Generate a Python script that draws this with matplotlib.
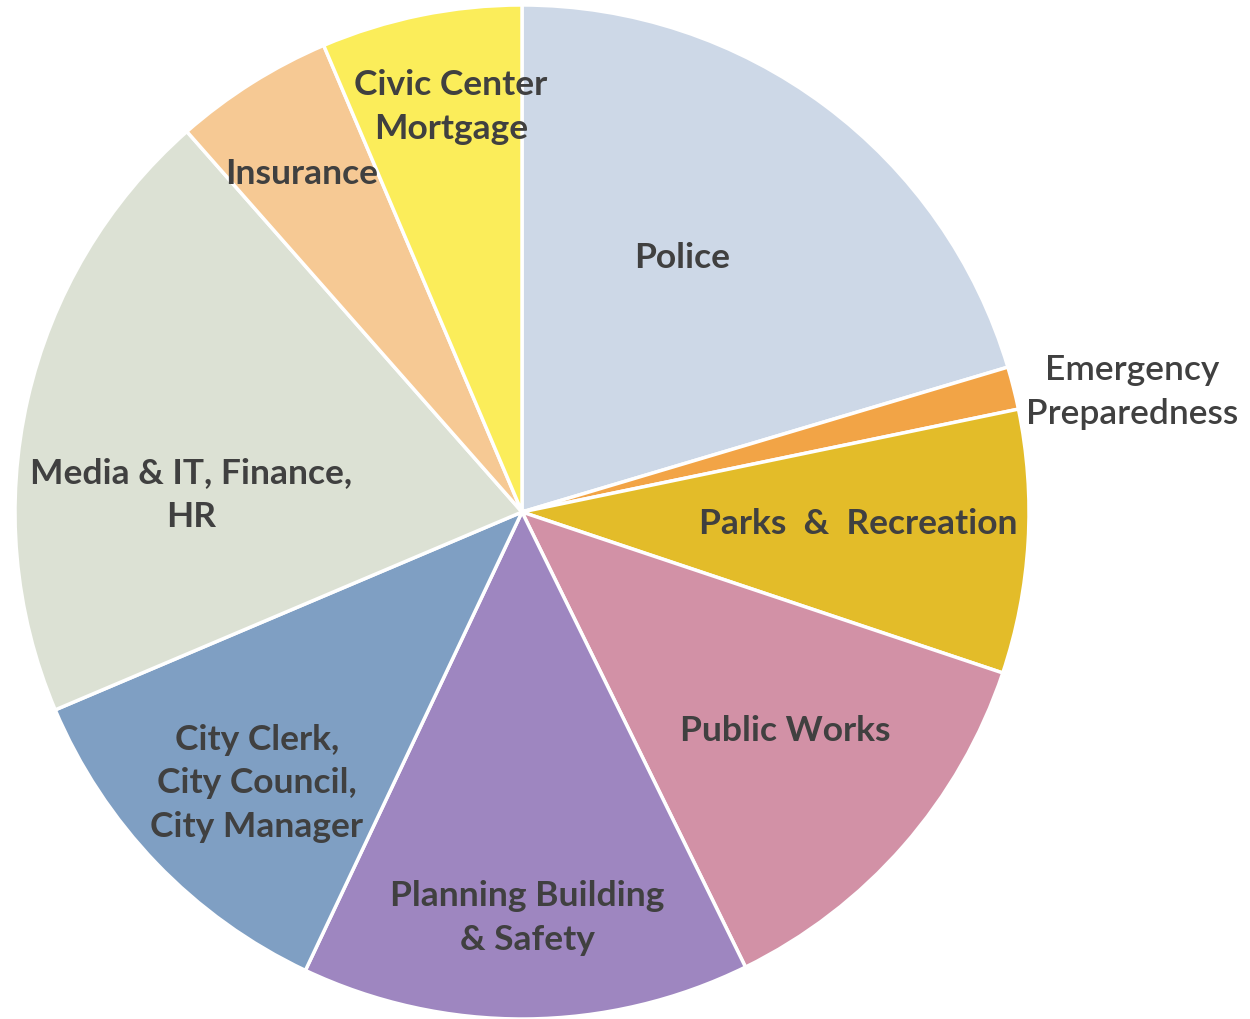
import matplotlib
matplotlib.use("Agg")
import matplotlib.pyplot as plt
import numpy as np

categories = ["Police", "Emergency\nPreparedness", "Parks  &  Recreation", "Public Works",
              "Planning Building\n& Safety", "City Clerk,\nCity Council,\nCity Manager",
              "Media & IT, Finance,\nHR", "Insurance", "Civic Center\nMortgage"]
values = [20.4, 1.36, 8.4, 12.6, 14.3, 11.6, 19.9, 5.1, 6.4]
colors = ["#CDD8E7", "#F2A446", "#E3BC29", "#D291A6", "#9E86C0", "#7F9FC3",
          "#DCE1D4", "#F6C994", "#FBED5A"]
# label positions (pie units, center 0,0 radius 1)
label_xy = [(0.315, 0.50), (1.203, 0.237), (0.664, -0.024), (0.519, -0.432),
            (0.010, -0.801), (-0.523, -0.535), (-0.653, 0.034), (-0.434, 0.667),
            (-0.140, 0.799)]

plt.rcParams['font.family'] = ['Lato', 'DejaVu Sans']

fig = plt.figure(figsize=(12.5, 10.19), dpi=100)
ax = fig.add_axes([15/1250, 0/1019, 1014/1250, 1014/1019])
ax.pie(values, colors=colors, startangle=90, counterclock=False, radius=1.0,
       wedgeprops=dict(edgecolor="white", linewidth=2.5))
ax.set_xlim(-1, 1)
ax.set_ylim(-1, 1)
ax.set_aspect('equal')
ax.axis('off')

for lab, (x, y) in zip(categories, label_xy):
    w = 'semibold' if lab.startswith("Emergency") else 'bold'
    ax.text(x, y, lab, ha='center', va='center', fontsize=25.5, color="#404040",
            fontweight=w, linespacing=1.45, clip_on=False)

fig.savefig("out.png", dpi=100)
